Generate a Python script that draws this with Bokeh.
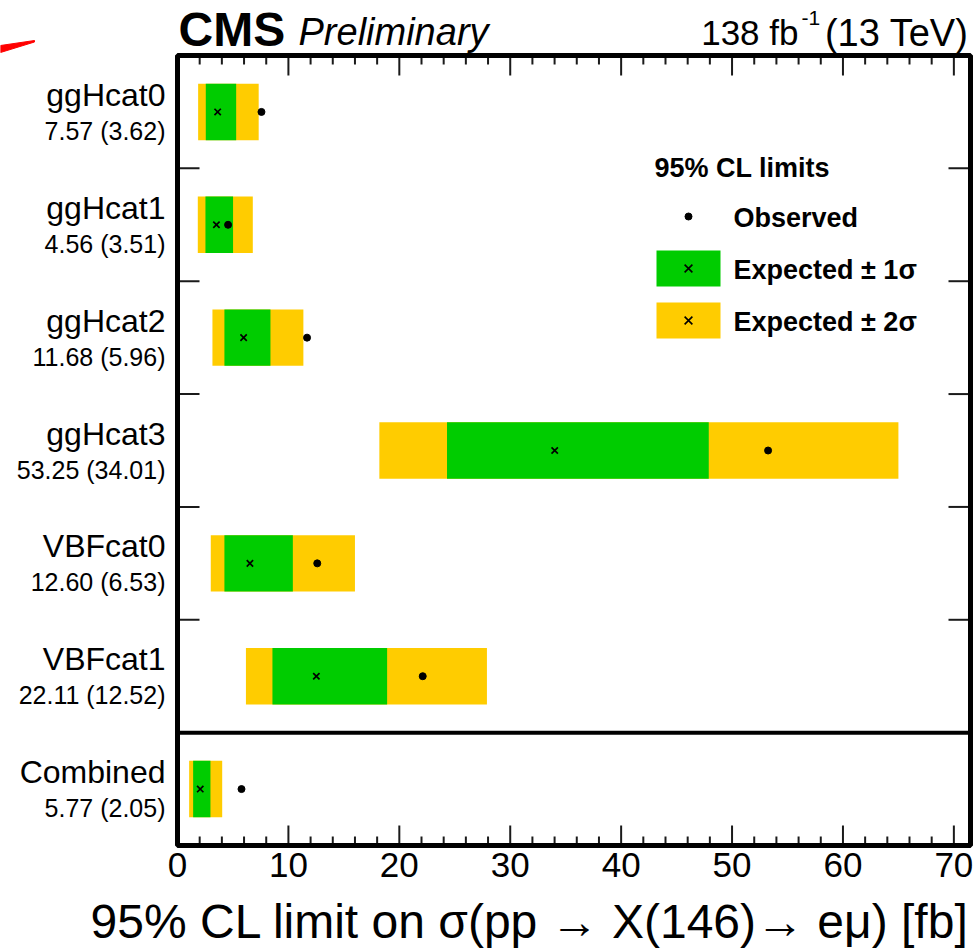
import numpy as np
from bokeh.plotting import figure
from bokeh.models import Range1d
from bokeh.core.properties import value
from bokeh.embed import file_html
from bokeh.resources import INLINE

# ---------------- data ----------------
categories = ["ggHcat0", "ggHcat1", "ggHcat2", "ggHcat3", "VBFcat0", "VBFcat1", "Combined"]
observed = [7.57, 4.56, 11.68, 53.25, 12.60, 22.11, 5.77]
expected = [3.62, 3.51, 5.96, 34.01, 6.53, 12.52, 2.05]
minus2 = [1.86, 1.83, 3.15, 18.2, 3.0, 6.17, 1.05]
minus1 = [2.55, 2.52, 4.23, 24.3, 4.23, 8.56, 1.41]
plus1 = [5.29, 5.01, 8.38, 47.9, 10.4, 18.9, 2.97]
plus2 = [7.32, 6.79, 11.35, 65.0, 16.0, 27.9, 4.03]
x_major_ticks = [0, 10, 20, 30, 40, 50, 60, 70]
x_minor_step = 2
x_max = 71.5

# ---------------- styles / layout ----------------
FONT = "Liberation Sans"
GREEN = "#00CC00"
YELLOW = "#FFCC00"
TICK_COLOR = "#1a1a1a"
W, H = 973, 950                 # canvas
BOX_L, BOX_R, BOX_T, BOX_B = 177, 970, 55, 845   # plot box on the canvas (px)

n = len(categories)
yc = np.array([n - 0.5 - i for i in range(n)])
half = 0.25

pxx = (BOX_R - BOX_L) / x_max      # px per x unit
pxy = (BOX_B - BOX_T) / n          # px per y unit


def X(px):
    return (px - BOX_L) / pxx


def Y(py):
    return (BOX_B - py) / pxy


p = figure(frame_width=W, frame_height=H,
           x_range=Range1d(X(0), X(W)), y_range=Range1d(Y(H), Y(0)),
           output_backend="svg", toolbar_location=None,
           x_axis_location=None, y_axis_location=None,
           min_border=0)
p.grid.visible = False
p.outline_line_color = None
p.background_fill_color = "white"
p.border_fill_color = "white"

# ---------------- bands & markers ----------------
p.quad(left=minus2, right=plus2, bottom=yc - half, top=yc + half,
       fill_color=YELLOW, line_color=None)
p.quad(left=minus1, right=plus1, bottom=yc - half, top=yc + half,
       fill_color=GREEN, line_color=None)
p.scatter(x=expected, y=yc, marker="x", size=9, line_width=1.7, line_color="black")
p.scatter(x=observed, y=yc, marker="circle", size=7, fill_color="black", line_color="black")

# ---------------- ticks ----------------
minor = [v for v in np.arange(0, x_max + 1e-9, x_minor_step) if not np.isclose(v % 10, 0)]
row_ticks = list(range(1, n))
maj_len, min_len, row_len = 20, 9, 22
p.segment(x0=x_major_ticks, x1=x_major_ticks, y0=0, y1=maj_len / pxy,
          line_color=TICK_COLOR, line_width=2)
p.segment(x0=x_major_ticks, x1=x_major_ticks, y0=n, y1=n - maj_len / pxy,
          line_color=TICK_COLOR, line_width=2)
p.segment(x0=minor, x1=minor, y0=0, y1=min_len / pxy, line_color=TICK_COLOR, line_width=2)
p.segment(x0=minor, x1=minor, y0=n, y1=n - min_len / pxy, line_color=TICK_COLOR, line_width=2)
p.segment(x0=0, x1=row_len / pxx, y0=row_ticks, y1=row_ticks, line_color=TICK_COLOR, line_width=2)
p.segment(x0=x_max, x1=x_max - row_len / pxx, y0=row_ticks, y1=row_ticks,
          line_color=TICK_COLOR, line_width=2)
# separator before "Combined"
p.segment(x0=0, x1=x_max, y0=1, y1=1, line_color="black", line_width=4)
# plot box
p.quad(left=0, right=x_max, bottom=0, top=n, fill_color=None, line_color="black", line_width=5)

# tick labels
p.text(x=x_major_ticks, y=Y(BOX_B + 7), text=[f"{t:g}" for t in x_major_ticks],
       text_align="center", text_baseline="top", text_font=value(FONT),
       text_font_size="35px", text_color="black")


def txt(x, y, t, size, style="normal", align="left"):
    p.text(x=x, y=y, text=t, text_align=align, text_baseline="middle",
           text_font=value(FONT), text_font_size=size, text_font_style=style,
           text_color="black")


# ---------------- category labels ----------------
txt([X(165)] * n, yc + 17 / pxy, categories, "32px", align="right")
txt([X(165)] * n, yc - 19 / pxy,
    [f"{o:.2f} ({e:.2f})" for o, e in zip(observed, expected)], "25px", align="right")

# ---------------- legend ----------------
LEG_FS = "27px"
txt([X(654)], [Y(167)], ["95% CL limits"], LEG_FS, "bold")
p.scatter(x=[X(688)], y=[Y(216)], marker="circle", size=7, fill_color="black", line_color="black")
txt([X(733)], [Y(217)], ["Observed"], LEG_FS, "bold")
p.quad(left=[X(656)], right=[X(720)], top=[Y(250)], bottom=[Y(286)], fill_color=GREEN, line_color=None)
p.scatter(x=[X(688)], y=[Y(268)], marker="x", size=11, line_width=1.6, line_color="black")
txt([X(733)], [Y(269)], ["Expected \u00b1 1\u03c3"], LEG_FS, "bold")
p.quad(left=[X(656)], right=[X(720)], top=[Y(302)], bottom=[Y(338)], fill_color=YELLOW, line_color=None)
p.scatter(x=[X(688)], y=[Y(320)], marker="x", size=11, line_width=1.6, line_color="black")
txt([X(733)], [Y(321)], ["Expected \u00b1 2\u03c3"], LEG_FS, "bold")

# ---------------- header & axis title ----------------
txt([X(178)], [Y(29)], ["CMS"], "48px", "bold")
txt([X(298)], [Y(31)], ["Preliminary"], "38px", "italic")
txt([X(798)], [Y(32)], ["138 fb"], "35px", align="right")
txt([X(801)], [Y(17)], ["-1"], "21px")
txt([X(968)], [Y(32)], ["(13 TeV)"], "38px", align="right")
txt([X(969)], [Y(921)], ["95% CL limit on \u03c3(pp \u2192 X(146)\u2192 e\u03bc) [fb]"], "48px", align="right")

# red arrow tip in the top-left corner
p.patch(x=[X(0), X(34), X(34), X(0)], y=[Y(45), Y(40), Y(41.5), Y(52)],
        fill_color="red", line_color="red", line_width=1)

open("out.html", "w").write(file_html(p, INLINE))
